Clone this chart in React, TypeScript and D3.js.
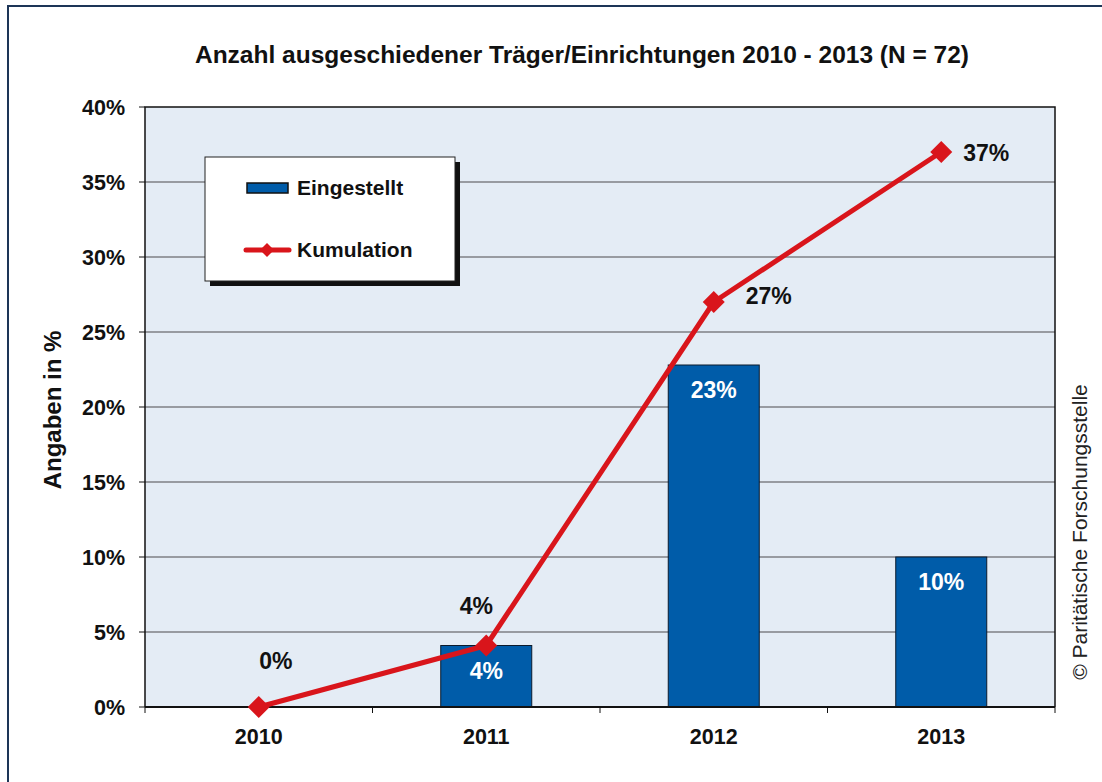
import React from 'react';
import * as d3 from 'd3';

const years = ['2010', '2011', '2012', '2013'];
const eingestellt = [0, 4.1, 22.8, 10.0];
const eingestelltLabels = ['', '4%', '23%', '10%'];
const kumulation = [0, 4.1, 27.0, 37.0];
const kumulationLabels = ['0%', '4%', '27%', '37%'];
const yTicks = [0, 5, 10, 15, 20, 25, 30, 35, 40];

const BLUE = '#005ca9';
const RED = '#d9151b';
const FONT = 'Arial, "Liberation Sans", sans-serif';

// where the cumulative labels sit relative to their point
const lineLabelOffset: [number, number, string][] = [
  [17, -38, 'middle'],
  [-10, -32, 'middle'],
  [32, 2, 'start'],
  [22, 9, 'start'],
];

export default function App() {
  const width = 1102;
  const height = 782;
  const plot = { left: 145, right: 1055, top: 107, bottom: 707 };

  const x = d3.scaleBand().domain(years).range([plot.left, plot.right]);
  const y = d3.scaleLinear().domain([0, 40]).range([plot.bottom, plot.top]);
  const barW = 91;
  const cx = (yr: string) => (x(yr) ?? 0) + x.bandwidth() / 2;

  const line = d3
    .line<number>()
    .x((_, i) => cx(years[i]))
    .y((d) => y(d));

  const diamond = (px: number, py: number, r: number) =>
    `M${px},${py - r}L${px + r},${py}L${px},${py + r}L${px - r},${py}Z`;

  return (
    <svg width={width} height={height} style={{ position: 'absolute', left: 0, top: 0 }} fontFamily={FONT}>
      <rect x={0} y={0} width={width} height={height} fill="#fff" />
      <rect x={8} y={6} width={1110} height={800} fill="#fff" stroke="#1d3557" strokeWidth={2} />

      <text x={582} y={63} textAnchor="middle" fontSize={24.5} fontWeight="bold" fill="#111">
        Anzahl ausgeschiedener Träger/Einrichtungen 2010 - 2013 (N = 72)
      </text>

      {/* plot area */}
      <rect x={plot.left} y={plot.top} width={plot.right - plot.left} height={plot.bottom - plot.top} fill="#e4ecf5" />
      {yTicks.filter((t) => t > 0 && t < 40).map((t) => (
        <line key={t} x1={plot.left} x2={plot.right} y1={y(t)} y2={y(t)} stroke="#7f8185" strokeWidth={1.3} />
      ))}

      {/* bars */}
      {eingestellt.map((v, i) =>
        v > 0 ? (
          <g key={years[i]}>
            <rect
              x={cx(years[i]) - barW / 2}
              y={y(v)}
              width={barW}
              height={y(0) - y(v)}
              fill={BLUE}
              stroke="#0b1a2c"
              strokeWidth={1}
            />
            <text
              x={cx(years[i])}
              y={y(v) + 33}
              textAnchor="middle"
              fontSize={23}
              fontWeight="bold"
              fill="#fff"
            >
              {eingestelltLabels[i]}
            </text>
          </g>
        ) : null
      )}

      {/* axes frame */}
      <path
        d={`M${plot.left},${plot.bottom}V${plot.top}H${plot.right}V${plot.bottom}`}
        fill="none"
        stroke="#111"
        strokeWidth={1.5}
      />
      <line x1={plot.left} x2={plot.right} y1={plot.bottom} y2={plot.bottom} stroke="#111" strokeWidth={2} />
      {yTicks.map((t) => (
        <g key={t}>
          <line x1={plot.left - 6} x2={plot.left} y1={y(t)} y2={y(t)} stroke="#111" strokeWidth={1} />
          <text x={plot.left - 20} y={y(t) + 8} textAnchor="end" fontSize={21.5} fontWeight="bold" fill="#111">
            {t}%
          </text>
        </g>
      ))}
      {[...years.map((yr) => x(yr) ?? 0), plot.right].map((bx, i) => (
        <line key={i} x1={bx} x2={bx} y1={plot.bottom} y2={plot.bottom + 6} stroke="#111" strokeWidth={1} />
      ))}
      {years.map((yr) => (
        <text key={yr} x={cx(yr)} y={plot.bottom + 37} textAnchor="middle" fontSize={21.5} fontWeight="bold" fill="#111">
          {yr}
        </text>
      ))}

      <text
        transform={`translate(61,410) rotate(-90)`}
        textAnchor="middle"
        fontSize={24}
        fontWeight="bold"
        fill="#111"
      >
        Angaben in %
      </text>

      {/* cumulative line */}
      <path d={line(kumulation) ?? ''} fill="none" stroke={RED} strokeWidth={5} strokeLinejoin="round" />
      {kumulation.map((v, i) => (
        <g key={years[i]}>
          <path d={diamond(cx(years[i]), y(v), 11)} fill={RED} />
          <text
            x={cx(years[i]) + lineLabelOffset[i][0]}
            y={y(v) + lineLabelOffset[i][1]}
            textAnchor={lineLabelOffset[i][2]}
            fontSize={23}
            fontWeight="bold"
            fill="#111"
          >
            {kumulationLabels[i]}
          </text>
        </g>
      ))}

      {/* legend */}
      <rect x={210} y={162} width={250} height={124} fill="#111" />
      <rect x={205} y={157} width={250} height={124} fill="#fff" stroke="#222" strokeWidth={1} />
      <rect x={247} y={183} width={41} height={10} fill={BLUE} stroke="#111" strokeWidth={1.5} />
      <text x={297} y={195} fontSize={21} fontWeight="bold" fill="#111">
        Eingestellt
      </text>
      <line x1={246} x2={289} y1={250} y2={250} stroke={RED} strokeWidth={5} strokeLinecap="round" />
      <path d={diamond(267, 250, 7)} fill={RED} />
      <text x={297} y={257} fontSize={21} fontWeight="bold" fill="#111">
        Kumulation
      </text>

      <text
        transform={`translate(1087,532) rotate(-90)`}
        textAnchor="middle"
        fontSize={21}
        fill="#222"
      >
        © Paritätische Forschungsstelle
      </text>
    </svg>
  );
}
